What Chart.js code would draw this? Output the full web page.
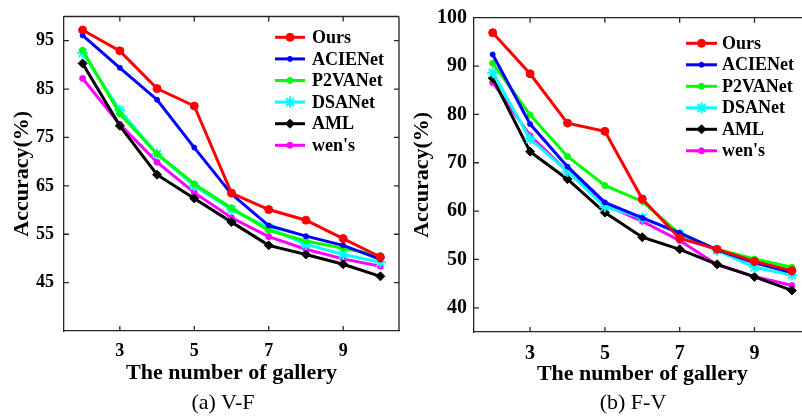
<!DOCTYPE html>
<html>
<head>
<meta charset="utf-8">
<script src="https://cdn.jsdelivr.net/npm/chart.js@4.4.0/dist/chart.umd.min.js"></script>
<style>
  html, body { margin: 0; padding: 0; background: #fff; overflow: hidden; width: 802px; height: 416px; }
  #wrap { position: relative; width: 802px; height: 416px; overflow: hidden; }
  .cv { position: absolute; top: 0; }
  .cap { position: absolute; font-family: 'Liberation Serif', 'Times New Roman', serif; font-size: 22px; color: #000; transform: translate(-50%, -50%); white-space: nowrap; }
</style>
</head>
<body>
<div id="wrap">
  <canvas id="c1" class="cv" width="400" height="416" style="left:0px;width:400px;height:416px"></canvas>
  <canvas id="c2" class="cv" width="412" height="416" style="left:400px;width:412px;height:416px"></canvas>
  <div class="cap" style="left:223px;top:402px">(a) V-F</div>
  <div class="cap" style="left:633px;top:402px">(b) F-V</div>
</div>
<script>
// ---- data ----
const categories = [2, 3, 4, 5, 6, 7, 8, 9, 10];
const seriesNames = ['Ours', 'ACIENet', 'P2VANet', 'DSANet', 'AML', "wen's"];
const xTicks = [3, 5, 7, 9];
const leftYTicks = [45, 55, 65, 75, 85, 95];
const rightYTicks = [40, 50, 60, 70, 80, 90, 100];

// (a) V-F
const vfOurs    = [97.2, 92.9, 85.1, 81.5, 63.5, 60.1, 57.9, 54.1, 50.3];
const vfACIENet = [96.1, 89.4, 82.8, 72.9, 63.3, 56.8, 54.6, 52.7, 49.8];
const vfP2VANet = [93.0, 79.9, 71.6, 65.4, 60.4, 55.8, 53.6, 52.1, 50.6];
const vfDSANet  = [92.5, 80.6, 71.6, 65.0, 60.1, 56.3, 52.9, 50.8, 49.2];
const vfAML     = [90.3, 77.4, 67.3, 62.4, 57.5, 52.7, 50.8, 48.8, 46.3];
const vfWens    = [87.2, 77.7, 69.9, 63.6, 58.4, 54.5, 51.9, 49.9, 48.4];

// (b) F-V
const fvOurs    = [96.9, 88.4, 78.2, 76.5, 62.5, 54.4, 52.1, 49.6, 47.7];
const fvACIENet = [92.4, 78.0, 69.2, 61.8, 58.6, 55.5, 52.0, 49.3, 47.3];
const fvP2VANet = [90.6, 79.9, 71.3, 65.3, 62.0, 55.3, 52.1, 50.1, 48.4];
const fvDSANet  = [88.6, 74.9, 68.2, 60.9, 58.6, 55.3, 51.9, 48.4, 46.8];
const fvAML     = [87.5, 72.3, 66.6, 59.7, 54.6, 52.1, 49.0, 46.4, 43.6];
const fvWens    = [86.6, 75.6, 68.2, 61.3, 57.9, 53.9, 48.9, 46.5, 44.6];

// ---- styles ----
const FONT = "'Liberation Serif', 'Times New Roman', serif";
const styles = [
  { color: '#ff0000', pointStyle: 'circle',  radius: 4,   bw: 1 },
  { color: '#0000ff', pointStyle: 'circle',  radius: 2.5, bw: 1 },
  { color: '#00ff00', pointStyle: 'circle',  radius: 3,   bw: 1 },
  { color: '#00ffff', pointStyle: 'star',    radius: 5.5, bw: 2 },
  { color: '#000000', pointStyle: 'rectRot', radius: 4.5, bw: 1 },
  { color: '#ff00ff', pointStyle: 'circle',  radius: 3,   bw: 1 }
];

function makeDatasets(seriesList) {
  return seriesList.map((vals, i) => ({
    label: seriesNames[i],
    data: categories.map((c, j) => ({ x: c, y: vals[j] })),
    borderColor: styles[i].color,
    backgroundColor: styles[i].color,
    borderWidth: 3,
    pointStyle: styles[i].pointStyle,
    pointRadius: styles[i].radius,
    pointBorderWidth: styles[i].bw,
    pointBackgroundColor: styles[i].color,
    pointBorderColor: styles[i].color,
    tension: 0,
    fill: false
  }));
}

const frameTicks = {
  id: 'frameTicks',
  afterDatasetsDraw(chart, args, opts) {
    const { ctx, chartArea: a, scales: { x, y } } = chart;
    ctx.save();
    ctx.strokeStyle = '#262626';
    ctx.lineWidth = 1.3;
    ctx.beginPath();
    ctx.moveTo(a.left, a.top); ctx.lineTo(a.right, a.top);
    if (opts.right) { ctx.moveTo(a.right, a.top); ctx.lineTo(a.right, a.bottom); }
    x.ticks.forEach(t => {
      const px = x.getPixelForValue(t.value);
      ctx.moveTo(px, a.bottom); ctx.lineTo(px, a.bottom - 5);
      ctx.moveTo(px, a.top); ctx.lineTo(px, a.top + 5);
    });
    y.ticks.forEach(t => {
      const py = y.getPixelForValue(t.value);
      ctx.moveTo(a.left, py); ctx.lineTo(a.left + 5, py);
      if (opts.right) { ctx.moveTo(a.right, py); ctx.lineTo(a.right - 5, py); }
    });
    ctx.stroke();
    ctx.restore();
  }
};

const lineLegend = {
  id: 'lineLegend',
  afterDraw(chart, args, opts) {
    const ctx = chart.ctx;
    ctx.save();
    chart.data.datasets.forEach((ds, i) => {
      const y = opts.y0 + i * opts.dy;
      ctx.strokeStyle = ds.borderColor;
      ctx.lineWidth = 3;
      ctx.beginPath();
      ctx.moveTo(opts.x0, y); ctx.lineTo(opts.x1, y);
      ctx.stroke();
      ctx.fillStyle = ds.pointBackgroundColor;
      ctx.strokeStyle = ds.pointBorderColor;
      ctx.lineWidth = ds.pointBorderWidth;
      Chart.helpers.drawPoint(ctx, { pointStyle: ds.pointStyle, radius: ds.pointRadius, rotation: 0, borderWidth: ds.pointBorderWidth }, (opts.x0 + opts.x1) / 2, y);
      ctx.fillStyle = '#000';
      ctx.font = 'bold ' + opts.fontSize + 'px ' + FONT;
      ctx.textAlign = 'left';
      ctx.textBaseline = 'middle';
      ctx.fillText(ds.label, opts.tx, y + 1);
    });
    ctx.restore();
  }
};

function makeChart(id, seriesList, yTicks, cfg) {
  return new Chart(document.getElementById(id), {
    type: 'line',
    data: { datasets: makeDatasets(seriesList) },
    plugins: [frameTicks, lineLegend],
    options: {
      responsive: false,
      animation: false,
      devicePixelRatio: 1,
      layout: { padding: cfg.padding, autoPadding: false },
      plugins: {
        legend: { display: false },
        tooltip: { enabled: false },
        frameTicks: { right: cfg.rightBorder },
        lineLegend: cfg.legend
      },
      scales: {
        x: {
          type: 'linear', min: 1.5, max: 10.5,
          afterBuildTicks: s => { s.ticks = xTicks.map(v => ({ value: v })); },
          afterFit: s => { s.height = 60; s.paddingLeft = 0; s.paddingRight = 0; s.paddingTop = 0; s.paddingBottom = 0; },
          grid: { display: true, drawOnChartArea: false, drawTicks: false },
          border: { display: true, color: '#262626', width: 1.3 },
          ticks: { color: '#000', font: { family: FONT, size: cfg.tickSize, weight: 'bold' }, padding: 10, maxRotation: 0 },
          title: { display: true, text: 'The number of gallery', color: '#000', font: { family: FONT, size: 22, weight: 'bold' }, padding: { top: 0, bottom: 4 } }
        },
        y: {
          type: 'linear', min: 35, max: 100,
          afterBuildTicks: s => { s.ticks = yTicks.map(v => ({ value: v })); },
          afterFit: s => { s.width = cfg.yWidth; s.paddingLeft = 0; s.paddingRight = 0; s.paddingTop = 0; s.paddingBottom = 0; },
          grid: { display: true, drawOnChartArea: false, drawTicks: false },
          border: { display: true, color: '#262626', width: 1.3 },
          ticks: { color: '#000', font: { family: FONT, size: cfg.tickSize, weight: 'bold' }, padding: cfg.yPad },
          title: { display: true, text: 'Accuracy(%)', color: '#000', font: { family: FONT, size: 22, weight: 'bold' }, padding: { top: 9, bottom: 0 } }
        }
      }
    }
  });
}

makeChart('c1', [vfOurs, vfACIENet, vfP2VANet, vfDSANet, vfAML, vfWens], leftYTicks, {
  padding: { left: 0, right: 1, top: 16.5, bottom: 25 },
  yWidth: 64, yPad: 10, tickSize: 18, rightBorder: true,
  legend: { x0: 275, x1: 305, tx: 312, y0: 37.3, dy: 21.6, fontSize: 18 }
});

makeChart('c2', [fvOurs, fvACIENet, fvP2VANet, fvDSANet, fvAML, fvWens], rightYTicks, {
  padding: { left: 0, right: 1.4, top: 17.7, bottom: 24 },
  yWidth: 74, yPad: 7, tickSize: 20, rightBorder: false,
  legend: { x0: 286, x1: 317, tx: 322, y0: 43.3, dy: 21.5, fontSize: 18 }
});
</script>
</body>
</html>
